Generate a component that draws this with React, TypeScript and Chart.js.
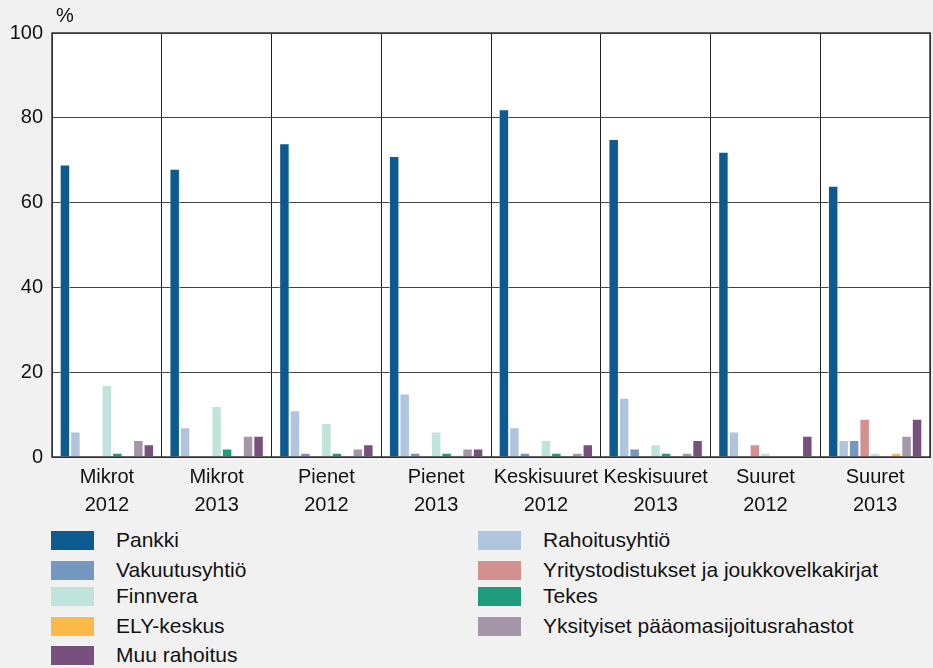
import React, { useEffect, useRef } from "react";
import { Chart, registerables } from "chart.js";

Chart.register(...registerables);

const categories: string[][] = [
  ["Mikrot", "2012"], ["Mikrot", "2013"], ["Pienet", "2012"], ["Pienet", "2013"],
  ["Keskisuuret", "2012"], ["Keskisuuret", "2013"], ["Suuret", "2012"], ["Suuret", "2013"],
];

const pankki = [69, 68, 74, 71, 82, 75, 72, 64];
const rahoitusyhtio = [6, 7, 11, 15, 7, 14, 6, 4];
const vakuutusyhtio = [0, 0, 1, 1, 1, 2, 0, 4];
const yritystodistukset = [0, 0, 0, 0, 0, 0, 3, 9];
const finnvera = [17, 12, 8, 6, 4, 3, 1, 1];
const tekes = [1, 2, 1, 1, 1, 1, 0, 0];
const elyKeskus = [0, 0, 0, 0, 0, 0, 0, 1];
const yksityiset = [4, 5, 2, 2, 1, 1, 0, 5];
const muuRahoitus = [3, 5, 3, 2, 3, 4, 5, 9];

const yTicks = [0, 20, 40, 60, 80, 100];

const seriesNames = [
  "Pankki", "Rahoitusyhtiö", "Vakuutusyhtiö", "Yritystodistukset ja joukkovelkakirjat",
  "Finnvera", "Tekes", "ELY-keskus", "Yksityiset pääomasijoitusrahastot", "Muu rahoitus",
];
const seriesData = [pankki, rahoitusyhtio, vakuutusyhtio, yritystodistukset, finnvera, tekes, elyKeskus, yksityiset, muuRahoitus];
const seriesColors = ["#0d5a91", "#b0c4de", "#7397bf", "#d48f8f", "#bfe4db", "#1f9b7d", "#fbb947", "#a696a9", "#77507d"];

const FONT = "'Liberation Sans', Arial, sans-serif";

export default function App() {
  const ref = useRef<HTMLCanvasElement>(null);

  useEffect(() => {
    const canvas = ref.current;
    if (!canvas) return;
    const bgPlugin = {
      id: "plotBg",
      beforeDraw(chart: any) {
        const { ctx, chartArea } = chart;
        ctx.save();
        ctx.fillStyle = "#ffffff";
        ctx.fillRect(chartArea.left, chartArea.top, chartArea.right - chartArea.left, chartArea.bottom - chartArea.top);
        ctx.restore();
      },
      afterDraw(chart: any) {
        const { ctx, chartArea } = chart;
        ctx.save();
        ctx.strokeStyle = "#333333";
        ctx.lineWidth = 1.5;
        ctx.strokeRect(chartArea.left, chartArea.top, chartArea.right - chartArea.left, chartArea.bottom - chartArea.top);
        ctx.restore();
      },
    };
    const chart = new Chart(canvas, {
      type: "bar",
      data: {
        labels: categories,
        datasets: seriesNames.map((name, i) => ({
          label: name,
          data: seriesData[i],
          backgroundColor: seriesColors[i],
          borderColor: "rgba(255,255,255,0.5)",
          borderWidth: 1,
          categoryPercentage: 0.86,
          barPercentage: 1,
        })),
      },
      options: {
        responsive: false,
        animation: false,
        layout: { padding: { top: 33, right: 3, left: 0, bottom: 0 } },
        plugins: { legend: { display: false }, tooltip: { enabled: false } },
        scales: {
          x: {
            grid: { offset: true, color: "#222222", lineWidth: 1, drawTicks: false },
            border: { color: "#333333" },
            ticks: {
              color: "#111111",
              font: { family: FONT, size: 20, lineHeight: 1.4 },
              padding: 6,
              maxRotation: 0,
              autoSkip: false,
            },
            afterFit(scale: any) { scale.height = 63; },
          },
          y: {
            min: 0,
            max: 100,
            afterBuildTicks(scale: any) { scale.ticks = yTicks.map((v) => ({ value: v })); },
            grid: { color: "#444444", lineWidth: 1, drawTicks: false },
            border: { color: "#333333" },
            ticks: {
              color: "#111111",
              font: { family: FONT, size: 20 },
              padding: 9,
            },
            afterFit(scale: any) { scale.width = 52; },
          },
        },
      },
      plugins: [bgPlugin],
    });
    return () => chart.destroy();
  }, []);

  const legendRowsY = [531, 561, 587, 617, 646];
  const legendItems = seriesNames.map((name, i) => ({
    name, color: seriesColors[i], col: i % 2, row: Math.floor(i / 2),
  }));

  return (
    <div style={{ position: "fixed", left: 0, top: 0, width: 933, height: 668, background: "#f1f1f1", fontFamily: FONT, overflow: "hidden" }}>
      <canvas ref={ref} width={933} height={520} style={{ position: "absolute", left: 0, top: 0 }} />
      <div style={{ position: "absolute", left: 56, top: 3, fontSize: 20, lineHeight: "24px", color: "#111" }}>%</div>
      {legendItems.map((it) => {
        const sx = it.col === 0 ? 51 : 478;
        const tx = it.col === 0 ? 116 : 543;
        const y = legendRowsY[it.row];
        return (
          <React.Fragment key={it.name}>
            <div style={{ position: "absolute", left: sx, top: y, width: 43, height: 19, background: it.color }} />
            <div style={{ position: "absolute", left: tx, top: y - 3, fontSize: 21, lineHeight: "24px", color: "#111", whiteSpace: "nowrap" }}>{it.name}</div>
          </React.Fragment>
        );
      })}
    </div>
  );
}
